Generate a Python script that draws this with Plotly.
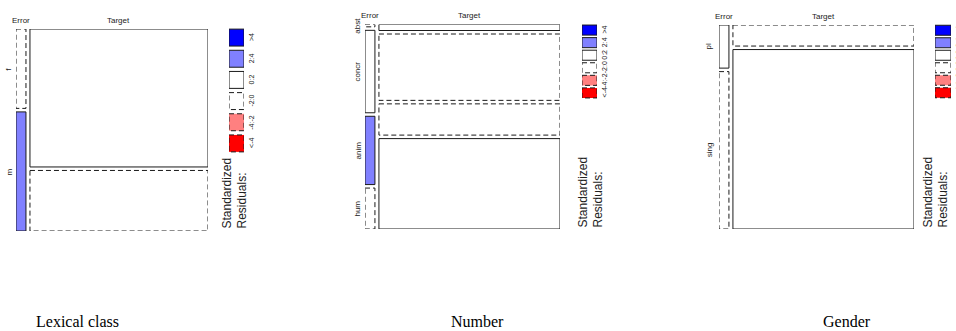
import plotly.graph_objects as go

W, H = 956, 331

# ---------------- data ----------------
columns = ["Error", "Target"]
residual_bins = [">4", "2:4", "0:2", "-2:0", "-4:-2", "<-4"]

lex_title = "Lexical class"
lex_levels = ["f", "m"]
lex_col_share = [0.053, 0.947]
lex_error_share = [0.40, 0.60]
lex_target_share = [0.695, 0.305]
lex_error_bin = ["-2:0", "2:4"]
lex_target_bin = ["0:2", "-2:0"]

num_title = "Number"
num_levels = ["abst", "concr", "anim", "hum"]
num_col_share = [0.052, 0.948]
num_error_share = [0.012, 0.425, 0.352, 0.211]
num_target_share = [0.031, 0.342, 0.161, 0.466]
num_error_bin = ["-2:0", "0:2", "2:4", "-2:0"]
num_target_bin = ["0:2", "-2:0", "-2:0", "0:2"]

gen_title = "Gender"
gen_levels = ["pl", "sing"]
gen_col_share = [0.052, 0.948]
gen_error_share = [0.215, 0.785]
gen_target_share = [0.105, 0.895]
gen_error_bin = ["0:2", "-2:0"]
gen_target_bin = ["-2:0", "0:2"]

# ---------------- styles ----------------
bin_fill = {">4": "#0000FF", "2:4": "#8080FF", "0:2": "#FFFFFF",
            "-2:0": "#FFFFFF", "-4:-2": "#FF8080", "<-4": "#FF0000"}
bin_dash = {">4": "solid", "2:4": "solid", "0:2": "solid",
            "-2:0": "5px,3px", "-4:-2": "5px,3px", "<-4": "5px,3px"}
EDGE = "#1a1a1a"
SANS = "Liberation Sans, Arial, sans-serif"
SERIF = "Liberation Serif, Times New Roman, serif"

panels = [
    dict(title=lex_title, levels=lex_levels, col_share=lex_col_share,
         shares=[lex_error_share, lex_target_share], bins=[lex_error_bin, lex_target_bin],
         mosaic=(16, 208, 29, 231), legend=(229, 244, 27, 154),
         std=(217, 231), title_x=77, row_shift=-7),
    dict(title=num_title, levels=num_levels, col_share=num_col_share,
         shares=[num_error_share, num_target_share], bins=[num_error_bin, num_target_bin],
         mosaic=(365, 560, 24.5, 229), legend=(582, 597, 23.8, 99.2),
         std=(573, 230), title_x=477, row_shift=-7),
    dict(title=gen_title, levels=gen_levels, col_share=gen_col_share,
         shares=[gen_error_share, gen_target_share], bins=[gen_error_bin, gen_target_bin],
         mosaic=(719, 914, 25, 229), legend=(935, 951, 24, 99),
         std=(918, 230), title_x=847, row_shift=-10),
]

GAP_X_PX = 4.0
GAP_Y_PX = 3.5

fig = go.Figure()
layout = dict(width=W, height=H, margin=dict(l=0, r=0, t=0, b=0),
              paper_bgcolor="white", plot_bgcolor="white", showlegend=False)
shapes = []
annotations = []


def ax_name(k):
    return "" if k == 1 else str(k)


k = 0
for p in panels:
    # mosaic axes
    k += 1
    mx = ax_name(k)
    x0, x1, y0, y1 = p["mosaic"]
    layout["xaxis" + mx] = dict(domain=[x0 / W, x1 / W], range=[0, 1], visible=False,
                                fixedrange=True, anchor="y" + mx)
    layout["yaxis" + mx] = dict(domain=[1 - y1 / H, 1 - y0 / H], range=[1, 0], visible=False,
                                fixedrange=True, anchor="x" + mx)
    gx = GAP_X_PX / (x1 - x0)
    gy = GAP_Y_PX / (y1 - y0)
    avail_x = 1 - gx * (len(columns) - 1)
    cx = 0.0
    for j, col in enumerate(columns):
        wcol = p["col_share"][j] * avail_x
        nrows = len(p["levels"])
        avail_y = 1 - gy * (nrows - 1)
        cy = 0.0
        for i, lev in enumerate(p["levels"]):
            hrow = p["shares"][j][i] * avail_y
            b = p["bins"][j][i]
            shapes.append(dict(type="rect", xref="x" + mx, yref="y" + mx,
                               x0=cx, x1=cx + wcol, y0=cy, y1=cy + hrow,
                               fillcolor=bin_fill[b],
                               line=dict(color=EDGE, width=1, dash=bin_dash[b])))
            if j == 0:
                annotations.append(dict(xref="x" + mx, yref="y" + mx, x=cx, y=cy + hrow / 2,
                                        text=lev, showarrow=False, textangle=-90,
                                        xanchor="center", yanchor="middle",
                                        xshift=p["row_shift"],
                                        font=dict(family=SANS, size=8, color="#222")))
            cy += hrow + gy
        annotations.append(dict(xref="x" + mx, yref="y" + mx, x=cx + wcol / 2, y=0,
                                text=col, showarrow=False, xanchor="center",
                                yanchor="bottom", yshift=2,
                                font=dict(family=SANS, size=8, color="#222")))
        cx += wcol + gx

    # legend axes
    k += 1
    lx = ax_name(k)
    lx0, lx1, ly0, ly1 = p["legend"]
    layout["xaxis" + lx] = dict(domain=[lx0 / W, lx1 / W], range=[0, 1], visible=False,
                                fixedrange=True, anchor="y" + lx)
    layout["yaxis" + lx] = dict(domain=[1 - ly1 / H, 1 - ly0 / H],
                                range=[len(residual_bins), 0], visible=False,
                                fixedrange=True, anchor="x" + lx)
    for i, b in enumerate(residual_bins):
        shapes.append(dict(type="rect", xref="x" + lx, yref="y" + lx,
                           x0=0, x1=1, y0=i + 0.1, y1=i + 0.9,
                           fillcolor=bin_fill[b],
                           line=dict(color=EDGE, width=1, dash=bin_dash[b])))
        annotations.append(dict(xref="x" + lx, yref="y" + lx, x=1, y=i + 0.5,
                                text=b, showarrow=False, textangle=-90,
                                xanchor="left", yanchor="middle", xshift=2,
                                font=dict(family=SANS, size=7, color="#222")))

    sx, sb = p["std"]
    annotations.append(dict(xref="paper", yref="paper", x=sx / W, y=1 - sb / H,
                            text="Standardized<br>Residuals:", showarrow=False,
                            textangle=-90, align="left", xanchor="left", yanchor="bottom",
                            font=dict(family=SANS, size=12, color="#222")))

    annotations.append(dict(xref="paper", yref="paper", x=p["title_x"] / W, y=1 - 321 / H,
                            text=p["title"], showarrow=False, xanchor="center",
                            yanchor="middle",
                            font=dict(family=SERIF, size=16, color="black")))

layout["shapes"] = shapes
layout["annotations"] = annotations
fig.update_layout(**layout)
fig.write_html("out.html", config={"displayModeBar": False},
               post_script="document.body.style.margin='0';document.body.style.overflow='hidden';")
